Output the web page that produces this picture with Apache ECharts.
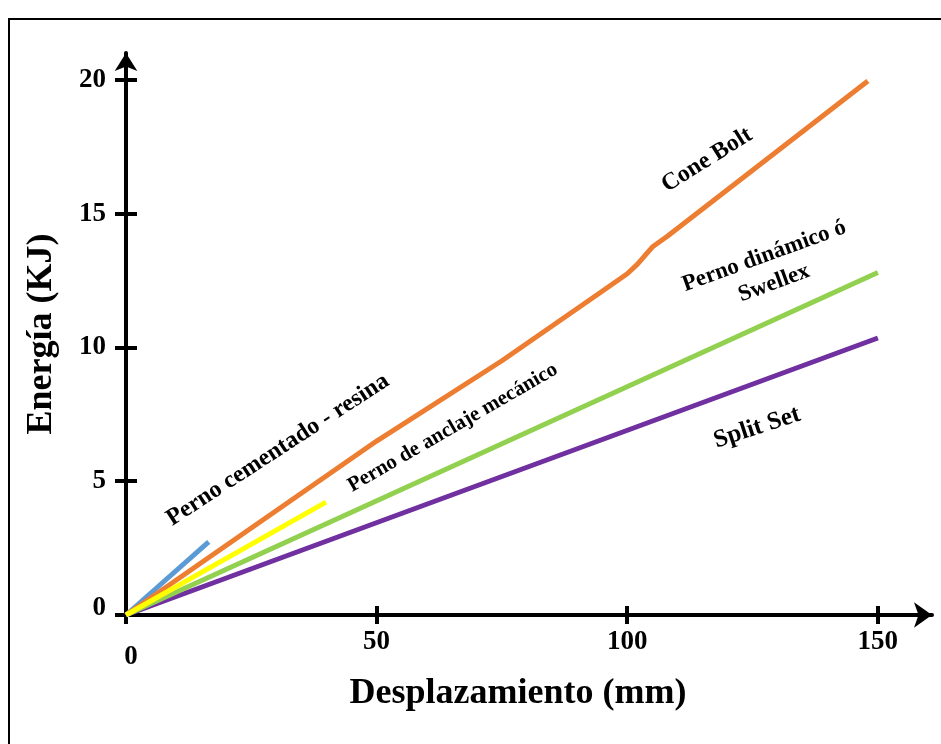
<!DOCTYPE html>
<html>
<head>
<meta charset="utf-8">
<script src="https://cdn.jsdelivr.net/npm/echarts@6/dist/echarts.min.js"></script>
<style>
html,body{margin:0;padding:0;background:#fff;}
#chart{width:941px;height:744px;}
</style>
</head>
<body>
<div id="chart"></div>
<script>
// ---- data ----
const xTickValues = [0, 50, 100, 150];
const yTickValues = [0, 5, 10, 15, 20];
const xTitle = 'Desplazamiento (mm)';
const yTitle = 'Energía (KJ)';

const seriesNames = ['Split Set', 'Perno dinámico ó\nSwellex', 'Perno cementado - resina', 'Cone Bolt', 'Perno de anclaje mecánico'];
const splitSet   = [[0, 0], [150, 10.35]];
const swellex    = [[0, 0], [150, 12.8]];
const cementado  = [[0, 0], [16.5, 2.73]];
const coneBolt   = [[0, 0], [50, 6.5], [75, 9.5], [95, 12.1], [100, 12.75], [102, 13.1], [105, 13.75], [108, 14.15], [148, 19.95]];
const mecanico   = [[0, 0], [39.9, 4.22]];

// label anchor points (data units) for the in-chart annotations
const labelAnchors = [[125.9, 7.0], [128.3, 12.9], [30.3, 6.17], [115.9, 17.0], [65.2, 7.0]];

const FONT = '"Liberation Serif", "Times New Roman", serif';
const X_MAX = 160.8, Y_MAX = 21.0;

function annot(i, rotate, size) {
  return {
    symbol: 'circle', symbolSize: 0, silent: true,
    data: [{ coord: labelAnchors[i] }],
    label: {
      show: true, position: 'inside', formatter: seriesNames[i],
      rotate: rotate, color: '#000', fontFamily: FONT, fontWeight: 'bold',
      fontSize: size, align: 'center', verticalAlign: 'middle', lineHeight: size * 1.25
    }
  };
}

function lineSeries(i, data, color, rot, size) {
  return {
    name: seriesNames[i], type: 'line', data: data, showSymbol: false,
    smooth: false, xAxisIndex: 0, yAxisIndex: 0,
    lineStyle: { color: color, width: 5, cap: 'butt' },
    itemStyle: { color: color },
    markPoint: annot(i, rot, size),
    animation: false
  };
}

const axisLabelStyle = { color: '#000', fontFamily: FONT, fontWeight: 'bold', fontSize: 27 };

const chart = echarts.init(document.getElementById('chart'), null, { renderer: 'canvas' });
chart.setOption({
  animation: false,
  backgroundColor: '#fff',
  graphic: [{
    type: 'rect', z: -10, silent: true,
    shape: { x: 9, y: 19, width: 1000, height: 1000 },
    style: { fill: null, stroke: '#000', lineWidth: 2 }
  }],
  grid: { left: 126, right: 9, top: 53, bottom: 129, containLabel: false },
  xAxis: [{
    type: 'value', min: 0, max: X_MAX, position: 'bottom',
    name: xTitle, nameLocation: 'middle', nameGap: 60,
    nameTextStyle: { color: '#000', fontFamily: FONT, fontWeight: 'bold', fontSize: 36, padding: [0, 22, 0, 0] },
    axisLine: { show: true, onZero: false, lineStyle: { color: '#000', width: 4 }, symbol: ['none', 'arrow'], symbolSize: [19, 18] },
    axisTick: { show: true, inside: false, length: 9, customValues: xTickValues, lineStyle: { color: '#000', width: 4 } },
    axisLabel: {
      show: true, margin: 14, customValues: xTickValues, ...axisLabelStyle,
      formatter: v => v === 0 ? '{z|0}' : String(v),
      rich: { z: { ...axisLabelStyle, padding: [15, 0, 0, 10] } }
    },
    splitLine: { show: false }
  }, {
    type: 'value', min: 0, max: X_MAX, position: 'bottom', offset: 0,
    axisLine: { show: false },
    axisTick: { show: true, inside: true, length: 9, customValues: xTickValues, lineStyle: { color: '#000', width: 4 } },
    axisLabel: { show: false },
    splitLine: { show: false }
  }],
  yAxis: [{
    type: 'value', min: 0, max: Y_MAX, position: 'left',
    name: yTitle, nameLocation: 'middle', nameGap: 66, nameRotate: 90,
    nameTextStyle: { color: '#000', fontFamily: FONT, fontWeight: 'bold', fontSize: 36 },
    axisLine: { show: true, onZero: false, lineStyle: { color: '#000', width: 4 }, symbol: ['none', 'arrow'], symbolSize: [17, 18] },
    axisTick: { show: true, inside: false, length: 11, customValues: yTickValues, lineStyle: { color: '#000', width: 4 } },
    axisLabel: {
      show: true, margin: 20, customValues: yTickValues, ...axisLabelStyle,
      formatter: v => v === 0 ? '{z|0}' : String(v),
      rich: { z: { ...axisLabelStyle, padding: [0, 0, 14, 0] } }
    },
    splitLine: { show: false }
  }, {
    type: 'value', min: 0, max: Y_MAX, position: 'left', offset: 0,
    axisLine: { show: false },
    axisTick: { show: true, inside: true, length: 11, customValues: yTickValues, lineStyle: { color: '#000', width: 4 } },
    axisLabel: { show: false },
    splitLine: { show: false }
  }],
  series: [
    lineSeries(0, splitSet, '#7030A0', 18, 25),
    lineSeries(1, swellex, '#92D050', 20, 23),
    lineSeries(2, cementado, '#5B9BD5', 33, 24),
    lineSeries(3, coneBolt, '#ED7D31', 32, 24),
    lineSeries(4, mecanico, '#FFFF00', 30, 21)
  ]
});
</script>
</body>
</html>
